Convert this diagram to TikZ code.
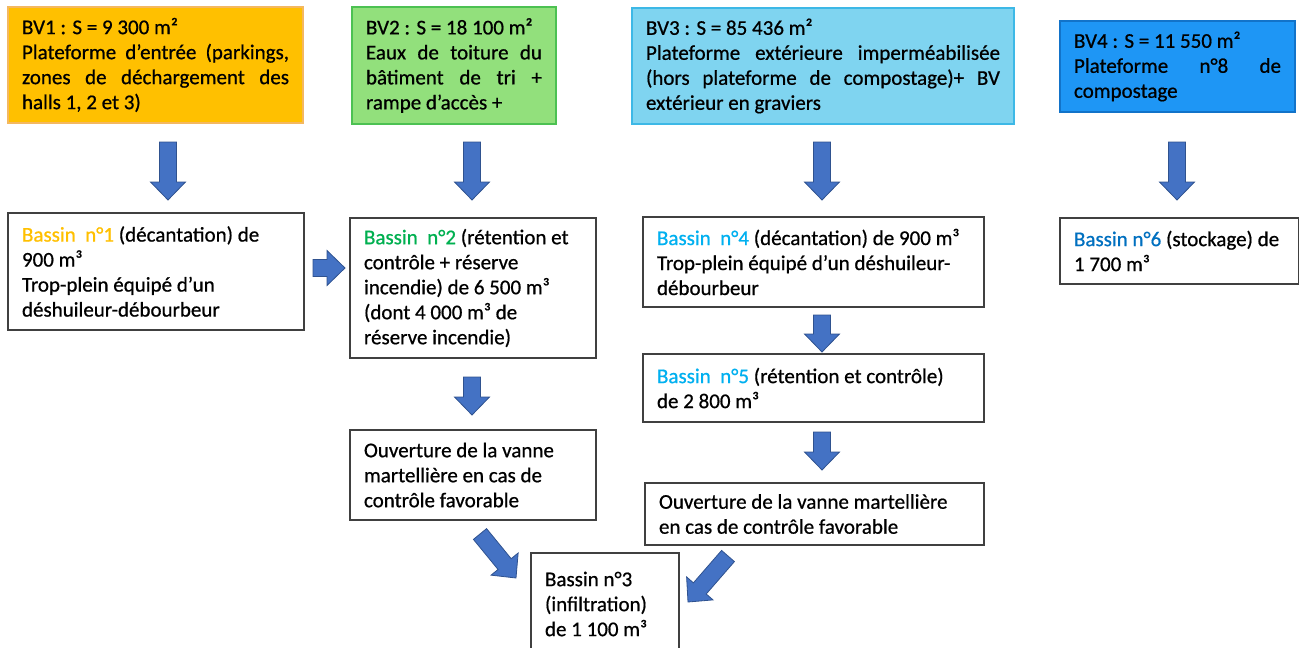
\documentclass[tikz,border=0pt]{standalone}
\usepackage{fontspec}
\setmainfont{Carlito}[RawFeature={embolden=0.7}]
\usetikzlibrary{calc}
\setlength\parindent{0pt}
\definecolor{bvAfill}{HTML}{FFC000}
\definecolor{bvAline}{HTML}{F4B860}
\definecolor{bvBfill}{HTML}{92E07C}
\definecolor{bvBline}{HTML}{4CC152}
\definecolor{bvCfill}{HTML}{7FD4F0}
\definecolor{bvCline}{HTML}{3DB8E6}
\definecolor{bvDfill}{HTML}{1E96F5}
\definecolor{bvDline}{HTML}{1273C9}
\definecolor{boxline}{HTML}{404040}
\definecolor{arrfill}{HTML}{4472C4}
\definecolor{arrline}{HTML}{2F528F}
\definecolor{txorange}{HTML}{FFC000}
\definecolor{txgreen}{HTML}{00B050}
\definecolor{txcyan}{HTML}{00B0F0}
\definecolor{txblue}{HTML}{0070C0}
\newcommand\jline[1]{\makebox[\hsize][s]{#1}}
\def\sw{8.5pt}
\def\hw{17.5pt}
\def\hl{18pt}
\newcommand\barrow[2]{%
  \coordinate (hd) at ($(#2)!\hl!(#1)$);
  \filldraw[arr] ($(#1)!\sw!90:(#2)$) -- ($(hd)!\sw!90:(#2)$) -- ($(hd)!\hw!90:(#2)$) -- (#2)
     -- ($(hd)!\hw!-90:(#2)$) -- ($(hd)!\sw!-90:(#2)$) -- ($(#1)!\sw!-90:(#2)$) -- cycle;}
\begin{document}
\begin{tikzpicture}[x=1pt,y=-1pt,
  txt/.style={font=\fontsize{21}{25}\selectfont, align=flush left, inner xsep=14pt, inner ysep=0pt, anchor=center},
  box/.style={txt, draw=boxline, line width=1.3pt, fill=white},
  topbox/.style={txt, line width=1.3pt},
  arr/.style={fill=arrfill, draw=arrline, line width=0.8pt, line join=miter}]
\useasboundingbox (0,0) rectangle (1299,648);

% top catchment boxes
\node[topbox, draw=bvAline, fill=bvAfill, minimum width=295pt, minimum height=116pt, text width=267pt] (bv1) at (155.5,65)
  {BV1 : S = 9 300 m²\\ \jline{Plateforme d’entrée (parkings,}\\ \jline{zones de déchargement des}\\ halls 1, 2 et 3)};
\node[topbox, draw=bvBline, fill=bvBfill, minimum width=204pt, minimum height=117pt, text width=176pt] (bv2) at (454,65.5)
  {BV2 : S = 18 100 m²\\ \jline{Eaux de toiture du}\\ \jline{bâtiment de tri +}\\ rampe d’accès +};
\node[topbox, draw=bvCline, fill=bvCfill, minimum width=382pt, minimum height=116pt, text width=354pt] (bv3) at (823,66)
  {BV3 : S = 85 436 m²\\ \jline{Plateforme extérieure imperméabilisée}\\ \jline{(hors plateforme de compostage)+ BV}\\ extérieur en graviers};
\node[topbox, draw=bvDline, fill=bvDfill, minimum width=235pt, minimum height=91pt, text width=207pt] (bv4) at (1177.5,66.5)
  {BV4 : S = 11 550 m²\\ \jline{Plateforme n°8 de}\\ compostage};

% basins
\node[box, minimum width=296pt, minimum height=117pt, text width=268pt] (b1) at (156,271.5)
  {{\color{txorange}Bassin\ \ n°1} (décantation) de\\ 900 m³\\ Trop-plein équipé d’un\\ déshuileur-débourbeur};
\node[box, minimum width=246pt, minimum height=140pt, text width=218pt] (b2) at (473,288)
  {{\color{txgreen}Bassin\ \ n°2} (rétention et\\ contrôle + réserve\\ incendie) de 6 500 m³\\ (dont 4 000 m³ de\\ réserve incendie)};
\node[box, minimum width=341pt, minimum height=90pt, text width=313pt] (b4) at (813.5,262)
  {{\color{txcyan}Bassin\ \ n°4} (décantation) de 900 m³\\ Trop-plein équipé d’un déshuileur-\\ débourbeur};
\node[box, minimum width=341pt, minimum height=68pt, text width=313pt] (b5) at (813.5,388)
  {{\color{txcyan}Bassin\ \ n°5} (rétention et contrôle)\\ de 2 800 m³};
\node[box, minimum width=239pt, minimum height=66pt, text width=211pt] (b6) at (1179.5,251)
  {{\color{txblue}Bassin n°6} (stockage) de\\ 1 700 m³};
\node[box, minimum width=246pt, minimum height=90pt, text width=218pt] (ov1) at (473,475)
  {Ouverture de la vanne\\ martellière en cas de\\ contrôle favorable};
\node[box, minimum width=339pt, minimum height=62pt, text width=311pt] (ov2) at (814.5,514)
  {Ouverture de la vanne martellière\\ en cas de contrôle favorable};
\node[box, minimum width=148pt, minimum height=102pt, text width=120pt] (b3) at (605,604)
  {Bassin n°3\\ (infiltration)\\ de 1 100 m³};

% arrow end points
\coordinate (a1s) at (168,142);  \coordinate (a1e) at (168,200);
\coordinate (a2s) at (472,142);  \coordinate (a2e) at (472,200);
\coordinate (a3s) at (822,142);  \coordinate (a3e) at (822,200);
\coordinate (a4s) at (1177,142); \coordinate (a4e) at (1177,200);
\coordinate (r1s) at (313,268);  \coordinate (r1e) at (345,268);
\coordinate (d2s) at (472,377);  \coordinate (d2e) at (472,415);
\coordinate (d4s) at (822,315);  \coordinate (d4e) at (822,352);
\coordinate (d5s) at (822,432);  \coordinate (d5e) at (822,470);
\coordinate (g1s) at (480,534);  \coordinate (g1e) at (516,578);
\coordinate (g2s) at (728,556);  \coordinate (g2e) at (688,602);

\barrow{a1s}{a1e}
\barrow{a2s}{a2e}
\barrow{a3s}{a3e}
\barrow{a4s}{a4e}
\barrow{r1s}{r1e}
\barrow{d2s}{d2e}
\barrow{d4s}{d4e}
\barrow{d5s}{d5e}
\barrow{g1s}{g1e}
\barrow{g2s}{g2e}
\end{tikzpicture}
\end{document}
